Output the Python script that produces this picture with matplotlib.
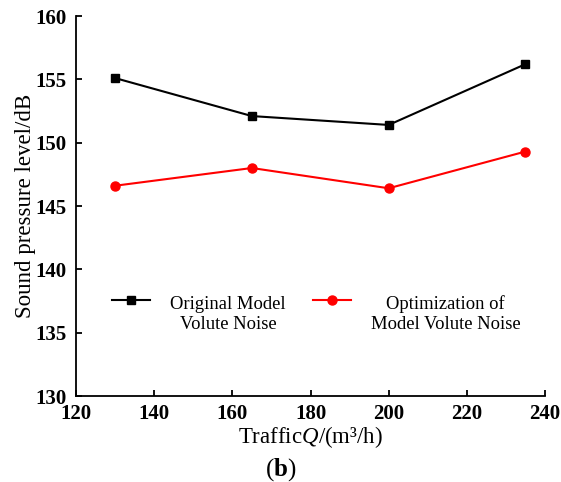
import matplotlib.pyplot as plt
from matplotlib.transforms import ScaledTranslation

plt.rcParams['font.family'] = 'Liberation Serif'
plt.rcParams['mathtext.fontset'] = 'custom'
plt.rcParams['mathtext.rm'] = 'Liberation Serif'
plt.rcParams['mathtext.it'] = 'Liberation Serif:italic'
plt.rcParams['mathtext.bf'] = 'Liberation Serif:bold'

# flow rate (m3/h) and sound pressure level (dB)
traffic = [130, 165, 200, 235]
original = [155.1, 152.1, 151.4, 156.2]
optimized = [146.6, 148.0, 146.4, 149.3]

fig = plt.figure(figsize=(5.61, 4.82), dpi=100)
ax = fig.add_axes([0.1355, 0.1784, 0.836, 0.7884])

ax.plot(traffic, original, '-s', color='black', lw=1.5, ms=6,
        label='Original Model\nVolute Noise')
ax.plot(traffic, optimized, '-o', color='red', lw=1.5, ms=6.5,
        label='Optimization of\nModel Volute Noise')

ax.set_xlim(120, 240)
ax.set_ylim(130, 160)
ax.set_xticks(range(120, 241, 20))
ax.set_yticks(range(130, 161, 5))
ax.spines['top'].set_visible(False)
ax.spines['right'].set_visible(False)
for s in ('left', 'bottom'):
    ax.spines[s].set_linewidth(1.3)
ax.tick_params(direction='in', length=4, width=1.3, labelsize=15)
ax.tick_params(axis='y', pad=6.5)
ax.tick_params(axis='x', pad=6)
for lab in ax.get_xticklabels() + ax.get_yticklabels():
    lab.set_fontweight('bold')

ax.set_xlabel('Traffic$Q$/(m³/h)', fontsize=16.5, labelpad=-0.5)
ax.set_ylabel('Sound pressure level/dB', fontsize=16.5, labelpad=0)

leg = ax.legend(ncol=2, frameon=False, fontsize=13.4, handlelength=2.05,
                handletextpad=1.07, columnspacing=1.45, loc='upper left',
                borderpad=0, borderaxespad=0,
                bbox_to_anchor=(0.077, 0.2645))
for t in leg.get_texts():
    t.set_multialignment('center')
# keep the legend symbols level with the first text line
shift = ScaledTranslation(0, 10.4 / 72, fig.dpi_scale_trans)
for h in leg.get_lines():
    h.set_transform(h.get_transform() + shift)

fig.text(0.501, 0.025, r'($\mathbf{b}$)', fontsize=18, ha='center', va='center')

fig.savefig('out.png', dpi=100)
